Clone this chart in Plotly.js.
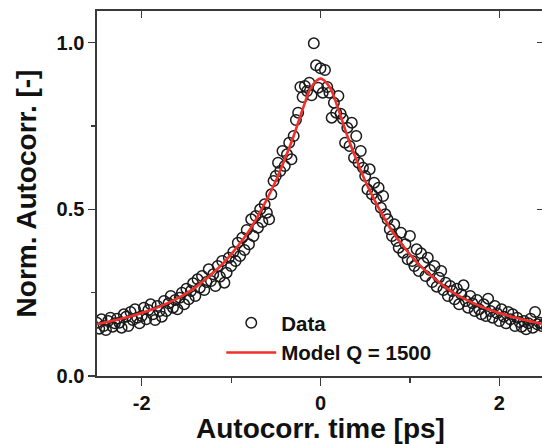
<!DOCTYPE html>
<html>
<head>
<meta charset="utf-8">
<script src="https://cdn.plot.ly/plotly-3.0.1.min.js"></script>
<style>
html,body{margin:0;padding:0;overflow:hidden;background:#fff;}
#chart{width:545px;height:444px;}
</style>
</head>
<body>
<div id="chart"></div>
<script>
// Measured autocorrelation (time in ps, normalized value)
const dataX = [
-2.500,-2.475,-2.450,-2.425,-2.400,-2.375,-2.350,-2.325,-2.300,-2.275,
-2.250,-2.225,-2.200,-2.175,-2.150,-2.125,-2.100,-2.075,-2.050,-2.025,
-2.000,-1.975,-1.950,-1.925,-1.900,-1.875,-1.850,-1.825,-1.800,-1.775,
-1.750,-1.725,-1.700,-1.675,-1.650,-1.625,-1.600,-1.575,-1.550,-1.525,
-1.500,-1.475,-1.450,-1.425,-1.400,-1.375,-1.350,-1.325,-1.300,-1.275,
-1.250,-1.225,-1.200,-1.175,-1.150,-1.125,-1.100,-1.075,-1.050,-1.025,
-1.000,-0.975,-0.950,-0.925,-0.900,-0.875,-0.850,-0.825,-0.800,-0.775,
-0.750,-0.725,-0.700,-0.675,-0.650,-0.625,-0.600,-0.575,-0.550,-0.525,
-0.500,-0.475,-0.450,-0.425,-0.400,-0.375,-0.350,-0.325,-0.300,-0.275,
-0.250,-0.225,-0.200,-0.175,-0.150,-0.125,-0.100,-0.075,-0.050,-0.025,
0.000,0.025,0.050,0.075,0.100,0.125,0.150,0.175,0.200,0.225,
0.250,0.275,0.300,0.325,0.350,0.375,0.400,0.425,0.450,0.475,
0.500,0.525,0.550,0.575,0.600,0.625,0.650,0.675,0.700,0.725,
0.750,0.775,0.800,0.825,0.850,0.875,0.900,0.925,0.950,0.975,
1.000,1.025,1.050,1.075,1.100,1.125,1.150,1.175,1.200,1.225,
1.250,1.275,1.300,1.325,1.350,1.375,1.400,1.425,1.450,1.475,
1.500,1.525,1.550,1.575,1.600,1.625,1.650,1.675,1.700,1.725,
1.750,1.775,1.800,1.825,1.850,1.875,1.900,1.925,1.950,1.975,
2.000,2.025,2.050,2.075,2.100,2.125,2.150,2.175,2.200,2.225,
2.250,2.275,2.300,2.325,2.350,2.375,2.400,2.425,2.450,2.475,
2.500
];
const dataY = [
0.160,0.142,0.170,0.150,0.138,0.165,0.175,0.148,0.158,0.172,
0.160,0.145,0.185,0.178,0.150,0.192,0.168,0.200,0.175,0.158,
0.180,0.205,0.170,0.198,0.215,0.185,0.168,0.210,0.195,0.178,
0.225,0.195,0.218,0.240,0.205,0.228,0.200,0.235,0.250,0.215,
0.262,0.230,0.255,0.278,0.240,0.290,0.265,0.300,0.258,0.282,
0.320,0.285,0.305,0.270,0.330,0.298,0.345,0.280,0.310,0.355,
0.330,0.372,0.345,0.400,0.360,0.415,0.378,0.438,0.395,0.470,
0.420,0.480,0.445,0.500,0.462,0.515,0.490,0.470,0.545,0.585,
0.600,0.640,0.615,0.675,0.630,0.665,0.700,0.650,0.720,0.768,
0.790,0.867,0.837,0.870,0.855,0.880,0.842,0.998,0.932,0.865,
0.923,0.850,0.918,0.867,0.850,0.775,0.820,0.790,0.840,0.787,
0.772,0.700,0.745,0.690,0.760,0.655,0.720,0.640,0.675,0.625,
0.600,0.560,0.620,0.545,0.580,0.530,0.565,0.505,0.540,0.485,
0.470,0.440,0.420,0.455,0.405,0.385,0.430,0.370,0.395,0.350,
0.420,0.345,0.330,0.380,0.315,0.368,0.340,0.300,0.355,0.318,
0.282,0.330,0.268,0.295,0.315,0.258,0.280,0.240,0.270,0.255,
0.230,0.262,0.215,0.245,0.272,0.225,0.205,0.240,0.218,0.195,
0.228,0.200,0.185,0.215,0.180,0.232,0.195,0.175,0.210,0.188,
0.165,0.200,0.178,0.158,0.192,0.170,0.185,0.150,0.175,0.162,
0.148,0.165,0.140,0.158,0.172,0.145,0.192,0.155,0.160,0.150,
0.155
];
// Model curve (Q = 1500)
const modelX = [-2.5,-2.4,-2.3,-2.2,-2.1,-2.0,-1.9,-1.8,-1.7,-1.6,-1.5,-1.4,-1.3,-1.2,-1.1,-1.0,-0.9,-0.8,-0.7,-0.6,-0.5,-0.4,-0.3,-0.2,-0.1,0.0,
 0.1,0.2,0.3,0.4,0.5,0.6,0.7,0.8,0.9,1.0,1.1,1.2,1.3,1.4,1.5,1.6,1.7,1.8,1.9,2.0,2.1,2.2,2.3,2.4,2.5];
const modelY = [0.155,0.161,0.167,0.174,0.181,0.189,0.198,0.208,0.220,0.233,0.248,0.266,0.287,0.310,0.335,0.365,0.398,0.435,0.480,0.530,0.585,0.650,0.720,0.800,0.868,0.892,
 0.868,0.800,0.720,0.650,0.585,0.530,0.480,0.435,0.398,0.365,0.335,0.310,0.287,0.266,0.248,0.233,0.220,0.208,0.198,0.189,0.181,0.174,0.167,0.161,0.155];

const xTickVals = [-2, 0, 2];
const xTickText = ['-2', '0', '2'];
const yTickVals = [0.0, 0.5, 1.0];
const yTickText = ['0.0', '0.5', '1.0'];
const seriesNames = ['Data', 'Model Q = 1500'];

const FONT = 'Liberation Sans, Arial, Helvetica, sans-serif';
const AX = '#3a3a3a';

const traces = [
  {x: dataX, y: dataY, type: 'scatter', mode: 'markers', name: seriesNames[0],
   marker: {symbol: 'circle-open', size: 10.5, color: '#1a1a1a', line: {width: 1.5, color: '#1a1a1a'}}},
  {x: modelX, y: modelY, type: 'scatter', mode: 'lines', name: seriesNames[1],
   line: {color: '#f0302a', width: 2.6, shape: 'spline', smoothing: 1}},
  // empty helper trace so the mirrored top/right frame axes get drawn
  {x: [], y: [], type: 'scatter', mode: 'markers', xaxis: 'x2', yaxis: 'y2',
   showlegend: false, hoverinfo: 'skip'}
];

const layout = {
  width: 545, height: 444,
  margin: {l: 97, r: 1, t: 11, b: 68},
  paper_bgcolor: '#fff', plot_bgcolor: '#fff',
  font: {family: FONT, color: '#111'},
  showlegend: true,
  legend: {x: 0.278, y: 0.2, xanchor: 'left', yanchor: 'top', bgcolor: 'rgba(0,0,0,0)',
           font: {family: FONT, size: 20.5, weight: 'bold', color: '#111'},
           itemwidth: 50, tracegroupgap: 0},
  xaxis: {range: [-2.5, 2.5], showgrid: false, zeroline: false,
          showline: true, linecolor: AX, linewidth: 1.6,
          ticks: 'outside', ticklen: 8, tickwidth: 1.4, tickcolor: AX,
          tickvals: xTickVals, ticktext: xTickText,
          tickfont: {family: FONT, size: 20, weight: 'bold', color: '#111'},
          minor: {tickvals: [-1, 1], ticks: 'outside', ticklen: 5, tickwidth: 1.2, tickcolor: AX},
          title: {text: 'Autocorr. time [ps]', standoff: 6,
                  font: {family: FONT, size: 28, weight: 'bold', color: '#111'}}},
  yaxis: {range: [0, 1.095], showgrid: false, zeroline: false,
          showline: true, linecolor: AX, linewidth: 1.6,
          ticks: 'outside', ticklen: 7, tickwidth: 1.4, tickcolor: AX,
          tickvals: yTickVals, ticktext: yTickText,
          tickfont: {family: FONT, size: 20, weight: 'bold', color: '#111'},
          minor: {tickvals: [0.25, 0.75], ticks: 'outside', ticklen: 4, tickwidth: 1.2, tickcolor: AX},
          title: {text: 'Norm. Autocorr. [-]', standoff: 12,
                  font: {family: FONT, size: 28, weight: 'bold', color: '#111'}}},
  xaxis2: {overlaying: 'x', side: 'top', anchor: 'y2', range: [-2.5, 2.5],
           showgrid: false, zeroline: false, showline: true, linecolor: AX, linewidth: 1.6,
           ticks: 'inside', ticklen: 7, tickwidth: 1.4, tickcolor: AX,
           tickvals: xTickVals, showticklabels: false},
  yaxis2: {overlaying: 'y', side: 'right', anchor: 'x2', range: [0, 1.095],
           showgrid: false, zeroline: false, showline: true, linecolor: AX, linewidth: 1.6,
           ticks: 'inside', ticklen: 7, tickwidth: 1.4, tickcolor: AX,
           tickvals: [0.5, 1.0], showticklabels: false}
};

Plotly.newPlot('chart', traces, layout, {displayModeBar: false, staticPlot: true});
</script>
</body>
</html>
